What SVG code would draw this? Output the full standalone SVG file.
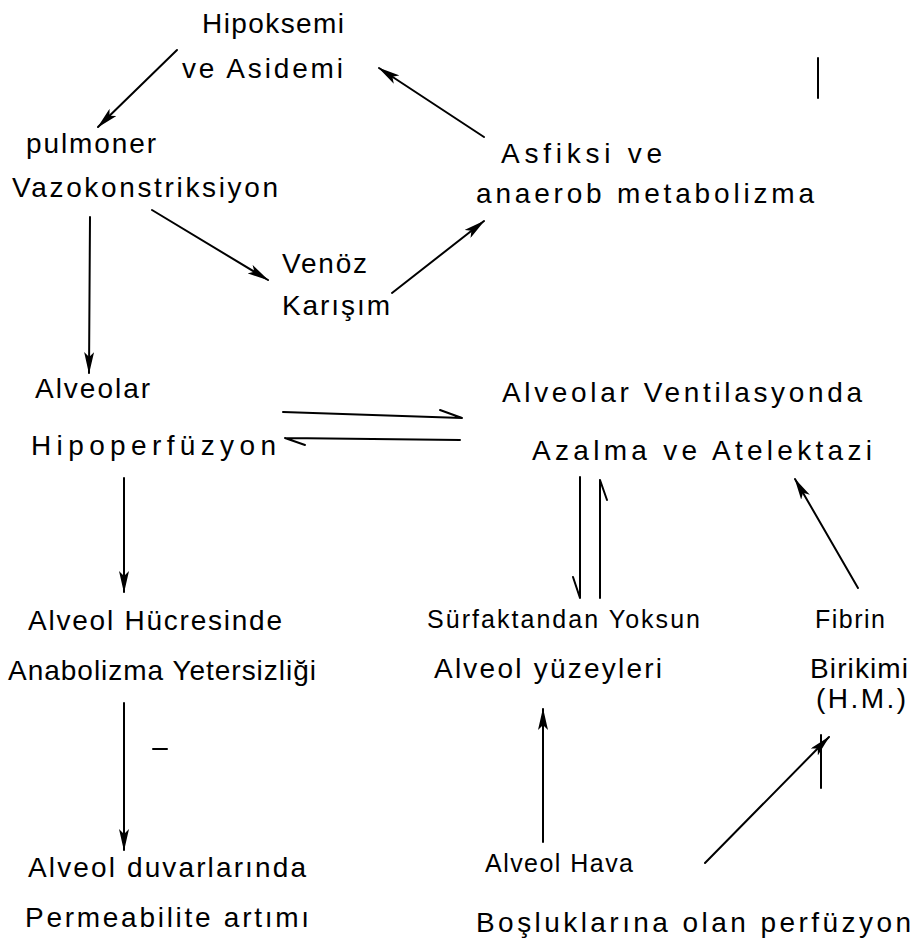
<svg xmlns="http://www.w3.org/2000/svg" width="918" height="945" viewBox="0 0 918 945">
<defs>
<marker id="ah" viewBox="0 0 22 10" refX="21" refY="5" markerWidth="22" markerHeight="10" markerUnits="userSpaceOnUse" orient="auto">
<path d="M0,0 L22,5 L0,10 L5,5 Z" fill="#000"/>
</marker>
<style>
text{font-family:"Liberation Sans","DejaVu Sans",sans-serif;font-size:28px;fill:#000;}
.sm{font-size:25px;}
.c{stroke:#000;stroke-width:2;fill:none;stroke-linecap:round;}
.a{marker-end:url(#ah);}
</style>
</defs>
<rect width="918" height="945" fill="#fff"/>
<g id="n-hipoksemi"><text x="202" y="33" textLength="142" lengthAdjust="spacing">Hipoksemi</text><text x="182" y="78" textLength="161" lengthAdjust="spacing">ve Asidemi</text></g>
<g id="n-pulmoner"><text x="26" y="153" textLength="130" lengthAdjust="spacing">pulmoner</text><text x="12" y="197" textLength="266" lengthAdjust="spacing">Vazokonstriksiyon</text></g>
<g id="n-asfiksi"><text x="501" y="163" textLength="161" lengthAdjust="spacing">Asfiksi ve</text><text x="476" y="203" textLength="338" lengthAdjust="spacing">anaerob metabolizma</text></g>
<g id="n-venoz"><text x="282" y="273" textLength="85" lengthAdjust="spacing">Venöz</text><text x="282" y="315" textLength="108" lengthAdjust="spacing">Karışım</text></g>
<g id="n-hipoperfuzyon"><text x="35" y="398" textLength="115" lengthAdjust="spacing">Alveolar</text><text x="31" y="455" textLength="245" lengthAdjust="spacing">Hipoperfüzyon</text></g>
<g id="n-ventilasyon"><text x="502" y="402" textLength="360" lengthAdjust="spacing">Alveolar Ventilasyonda</text><text x="532" y="460" textLength="340" lengthAdjust="spacing">Azalma ve Atelektazi</text></g>
<g id="n-hucre"><text x="28" y="630" textLength="254" lengthAdjust="spacing">Alveol Hücresinde</text><text x="8" y="680" textLength="308" lengthAdjust="spacing">Anabolizma Yetersizliği</text></g>
<g id="n-surfaktan"><text x="427" y="628" class="sm" textLength="273" lengthAdjust="spacing">Sürfaktandan Yoksun</text><text x="434" y="678" textLength="228" lengthAdjust="spacing">Alveol yüzeyleri</text></g>
<g id="n-fibrin"><text x="815" y="628" class="sm" textLength="70" lengthAdjust="spacing">Fibrin</text><text x="810" y="678" textLength="98" lengthAdjust="spacing">Birikimi</text><text x="816" y="708" textLength="90" lengthAdjust="spacing">(H.M.)</text></g>
<g id="n-duvar"><text x="28" y="877" textLength="278" lengthAdjust="spacing">Alveol duvarlarında</text><text x="25" y="927" textLength="284" lengthAdjust="spacing">Permeabilite artımı</text></g>
<g id="n-hava"><text x="485" y="872" class="sm" textLength="148" lengthAdjust="spacing">Alveol Hava</text><text x="476" y="932" textLength="435" lengthAdjust="spacing">Boşluklarına olan perfüzyon</text></g>
<g id="connectors">
<line class="c a" x1="177" y1="50" x2="98" y2="127"/>
<line class="c a" x1="484" y1="137" x2="379" y2="68"/>
<line class="c a" x1="152" y1="210" x2="268" y2="280"/>
<line class="c a" x1="392" y1="293" x2="484" y2="221"/>
<line class="c a" x1="90" y1="217" x2="89" y2="373"/>
<path class="c" d="M283,412 L462,418 M440,410 L462,418"/>
<path class="c" d="M460,440 L285,438 M285,438 L305,445"/>
<path class="c" d="M580,477 L580,598 M573,577 L580,598"/>
<path class="c" d="M600,598 L600,480 M600,480 L607,500"/>
<line class="c a" x1="124" y1="478" x2="124" y2="592"/>
<line class="c a" x1="124" y1="703" x2="124" y2="850"/>
<line class="c a" x1="543" y1="842" x2="543" y2="709"/>
<line class="c a" x1="858" y1="588" x2="795" y2="479"/>
<line class="c a" x1="705" y1="863" x2="829" y2="737"/>
<line class="c" x1="821" y1="735" x2="821" y2="788"/>
</g>
<g id="marks">
<line class="c" x1="818" y1="58" x2="818" y2="98"/>
<line class="c" x1="153" y1="749" x2="167" y2="749" stroke-width="3"/>
</g>
</svg>
